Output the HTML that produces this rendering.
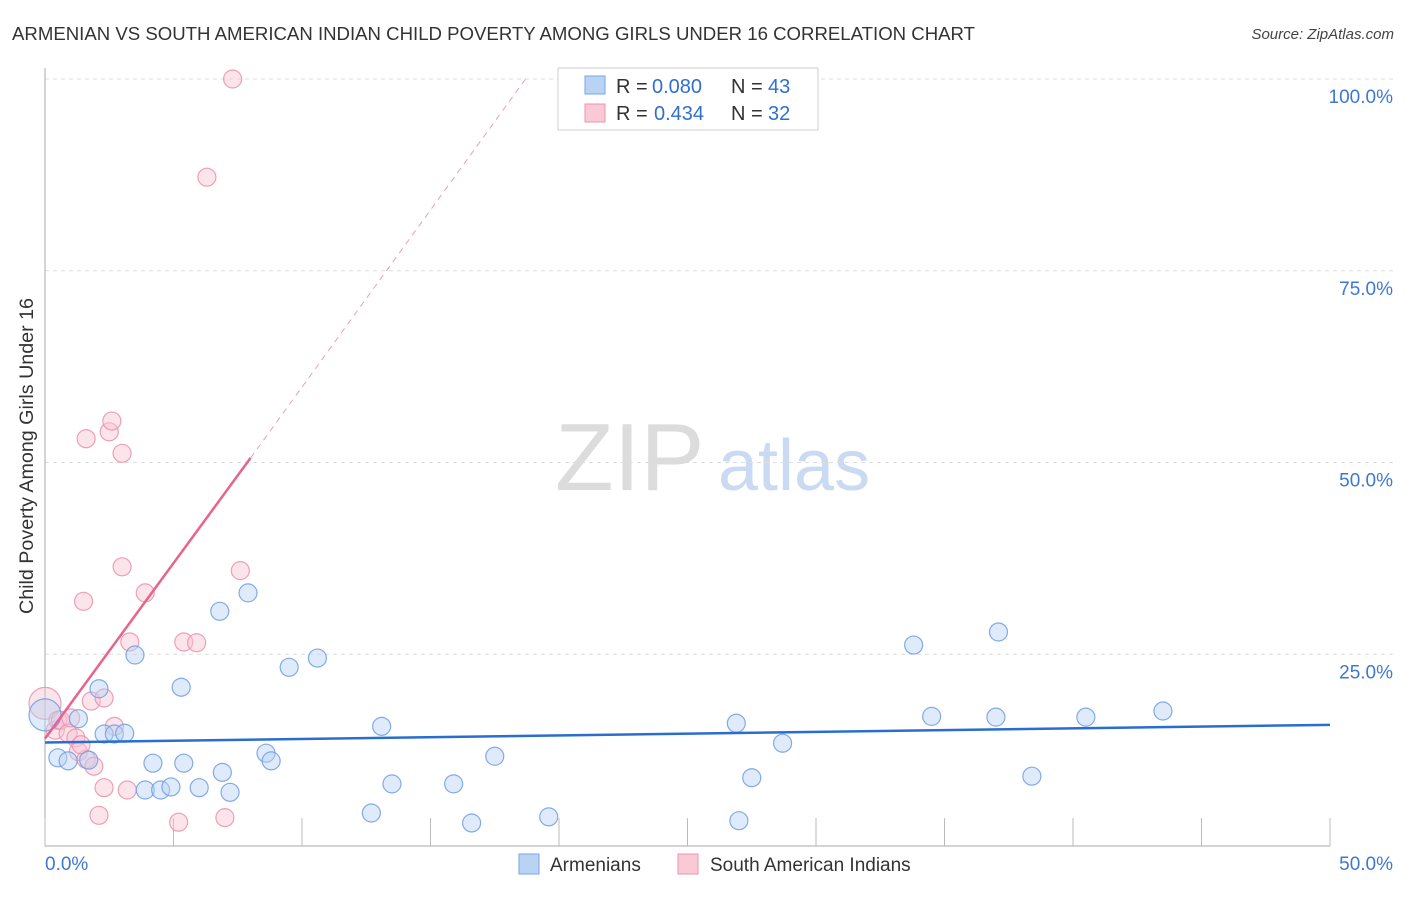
<!DOCTYPE html>
<html><head><meta charset="utf-8"><style>
body{margin:0;background:#fff;font-family:"Liberation Sans",sans-serif}
svg text{font-family:"Liberation Sans",sans-serif}
</style></head><body>
<svg id="chart" width="1406" height="892" xmlns="http://www.w3.org/2000/svg">
<text x="12" y="40" font-size="18.5" fill="#333" textLength="963" lengthAdjust="spacingAndGlyphs">ARMENIAN VS SOUTH AMERICAN INDIAN CHILD POVERTY AMONG GIRLS UNDER 16 CORRELATION CHART</text>
<text x="1394" y="39" font-size="15" fill="#444" text-anchor="end" font-style="italic">Source: ZipAtlas.com</text>
<g>
<text x="555" y="490" font-size="96" fill="#dcdcdc" font-family="Liberation Serif,serif">ZIP</text>
<text x="718" y="490" font-size="72" fill="#c9daf2">atlas</text>
</g>
<g id="grid"></g>
<g id="axes"></g>
<g id="marks"></g>
<text transform="translate(33,456) rotate(-90)" font-size="19" fill="#333" text-anchor="middle" textLength="316" lengthAdjust="spacingAndGlyphs">Child Poverty Among Girls Under 16</text>
<g>
<rect x="558" y="68" width="260" height="62" fill="#fff" stroke="#ccc"/>
<rect x="585" y="76" width="20" height="18" fill="#b9d3f5" stroke="#7aa6e6"/>
<text x="616" y="93" font-size="20" fill="#333">R =</text>
<text x="652" y="93" font-size="20" fill="#2f6fd0">0.080</text>
<text x="731" y="93" font-size="20" fill="#333">N =</text>
<text x="768" y="93" font-size="20" fill="#2f6fd0">43</text>
<rect x="585" y="104" width="20" height="18" fill="#f9c9d6" stroke="#ee93ad"/>
<text x="616" y="120" font-size="20" fill="#333">R =</text>
<text x="654" y="120" font-size="20" fill="#2f6fd0">0.434</text>
<text x="731" y="120" font-size="20" fill="#333">N =</text>
<text x="768" y="120" font-size="20" fill="#2f6fd0">32</text>
</g>
<g>
<rect x="519" y="854" width="20" height="20" fill="#b9d3f5" stroke="#7aa6e6"/>
<text x="550" y="871" font-size="19" fill="#333">Armenians</text>
<rect x="678" y="854" width="20" height="20" fill="#f9c9d6" stroke="#ee93ad"/>
<text x="710" y="871" font-size="19" fill="#333">South American Indians</text>
</g>
</svg>
<script>
const blueX=[0,0.5,0.9,1.3,1.7,2.1,2.3,2.7,3.1,3.5,3.9,4.2,4.5,4.9,5.3,5.4,6.0,6.8,6.9,7.2,7.9,8.6,8.8,9.5,10.6,12.7,13.1,13.5,15.9,16.6,17.5,19.6,26.9,27.0,27.5,28.7,33.8,34.5,37.0,37.1,38.4,40.5,43.5];
const blueY=[17.1,11.5,11.1,16.6,11.2,20.5,14.6,14.6,14.7,24.9,7.3,10.8,7.3,7.7,20.7,10.8,7.6,30.6,9.6,7.0,33.0,12.1,11.1,23.3,24.5,4.3,15.6,8.1,8.1,3.0,11.7,3.8,16.0,3.3,8.9,13.4,26.2,16.9,16.8,27.9,9.1,16.8,17.6];
const pinkX=[0,0.4,0.5,0.6,0.9,1.0,1.2,1.3,1.5,1.6,1.6,1.8,1.9,2.1,2.3,2.3,2.5,2.6,2.7,3.0,3.0,3.2,3.3,3.9,5.2,5.4,5.9,6.3,7.0,7.3,7.6,1.4];
const pinkY=[18.6,15.1,16.4,16.4,14.7,16.7,14.1,12.3,31.9,11.3,53.1,18.9,10.4,4.0,7.6,19.3,54.0,55.4,15.6,51.2,36.4,7.3,26.6,33.0,3.1,26.6,26.5,87.2,3.7,100,35.9,13.2];
const yTicks=[25,50,75,100];
const yTickLabels=["25.0%","50.0%","75.0%","100.0%"];
const blueTrend=[[0,13.5],[50,15.8]];
const pinkTrend=[[0,14.0],[8,50.6]];
const pinkDash=[[8,50.6],[18.7,100]];
const NS="http://www.w3.org/2000/svg";
const X=v=>45+v*(1285/50);
const Y=v=>846-v*(767/100);
function mk(t,a,p){const e=document.createElementNS(NS,t);for(const k in a)e.setAttribute(k,a[k]);p.appendChild(e);return e;}
const grid=document.getElementById('grid'),axes=document.getElementById('axes'),marks=document.getElementById('marks');
yTicks.forEach((t,i)=>{
 const l=mk('line',{x1:45,x2:1394,y1:Y(t),y2:Y(t),stroke:'#ddd','stroke-dasharray':'4,4'},grid);
 
 
 const tx=mk('text',{x:1393,y:Y(t)+24,'font-size':19,fill:'#3d78d3','text-anchor':'end'},axes);
 tx.textContent=yTickLabels[i];
 
 
});
const ax=mk('path',{d:'M45,68V846H1330',stroke:'#aaa',fill:'none'},axes);


for(let i=0;i<=10;i++){const tk=mk('line',{x1:X(i*5),x2:X(i*5),y1:818,y2:846,stroke:'#bbb'},axes);
 
 }
const x0=mk('text',{x:45,y:870,'font-size':19,fill:'#3d78d3'},axes);x0.textContent='0.0%';


const x1=mk('text',{x:1393,y:870,'font-size':19,fill:'#3d78d3','text-anchor':'end'},axes);x1.textContent='50.0%';


function dots(xs,ys,fill,stroke,name){xs.forEach((x,i)=>{
 const c=mk('circle',{cx:X(x),cy:Y(ys[i]),r:i===0?16:9,fill:fill,'fill-opacity':0.45,stroke:stroke,'stroke-width':1.2,'stroke-opacity':0.85},marks);
 
 });}
dots(pinkX,pinkY,'#f9c3d2','#ec8fab','point-south-american-indian');
dots(blueX,blueY,'#b9d3f5','#6d9de2','point-armenian');
function ln(p,st,w,dash,name){const l=mk('line',{x1:X(p[0][0]),y1:Y(p[0][1]),x2:X(p[1][0]),y2:Y(p[1][1]),stroke:st,'stroke-width':w},marks);
 if(dash)l.setAttribute('stroke-dasharray',dash);
 
 }
ln(blueTrend,'#2a6dd0',2.5,null,'armenian-trend-line');
ln(pinkTrend,'#e8648c',2.5,null,'sa-indian-trend-line');
ln(pinkDash,'#e8a0b5',1,'6,5','sa-indian-trend-extension');
</script>
</body></html>
